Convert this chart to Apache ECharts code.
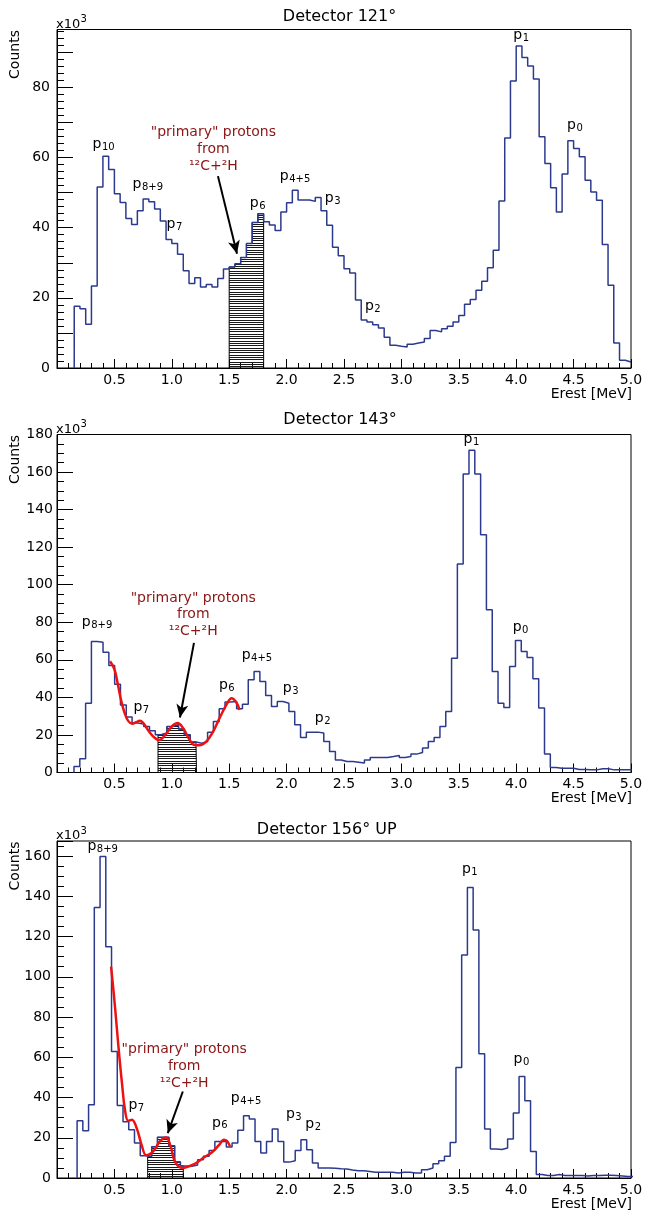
<!DOCTYPE html>
<html>
<head>
<meta charset="utf-8">
<script src="https://cdn.jsdelivr.net/npm/echarts@6/dist/echarts.min.js"></script>
<style>
html, body { margin: 0; padding: 0; background: #fff; }
#main { width: 645px; height: 1216px; }
</style>
</head>
<body>
<div id="main"></div>
<script>
// binning of each histogram (MeV): first edge and bin width
var binStart = [0.15, 0.148, 0.175];
var binWidth = [0.05, 0.0506, 0.05];

// counts per bin, x10^3
var counts121 = [
  17.6, 16.9, 12.5, 23.4, 51.6, 60.4, 56.6, 49.7, 47.2, 42.6,
  40.9, 44.8, 48.2, 47.4, 45.3, 41.9, 36.6, 35.5, 32.4, 27.7,
  24.1, 25.7, 23.1, 23.8, 23.1, 25.5, 28.2, 28.8, 29.7, 31.5,
  35.5, 41.5, 44.0, 41.7, 40.8, 39.2, 44.5, 47.1, 50.7, 47.9,
  47.9, 47.5, 48.6, 44.8, 40.7, 34.4, 32.0, 28.3, 27.1, 19.4,
  13.7, 13.1, 12.3, 11.4, 8.8, 6.5, 6.2, 6.0, 6.8, 7.1,
  7.4, 8.4, 10.7, 10.3, 11.2, 11.9, 13.1, 15.0, 18.2, 19.5,
  22.2, 24.7, 28.6, 33.6, 47.6, 65.6, 81.8, 91.8, 88.5, 86.1,
  82.4, 65.9, 58.3, 51.4, 44.5, 55.3, 64.8, 62.6, 60.2, 53.5,
  50.2, 47.8, 35.2, 23.6, 7.1, 2.2, 1.7
];
var counts143 = [
  3.2, 7.3, 36.9, 69.8, 69.4, 64.0, 57.0, 47.0, 36.0, 29.5,
  26.3, 25.8, 24.5, 22.2, 20.1, 21.0, 24.5, 25.4, 23.1, 20.1,
  16.2, 15.6, 16.5, 21.5, 27.2, 33.9, 37.5, 37.8, 33.9, 36.4,
  49.4, 53.8, 48.5, 41.0, 35.2, 37.8, 36.9, 32.5, 25.4, 18.7,
  21.5, 21.5, 21.0, 16.5, 11.2, 6.7, 5.9, 5.9, 5.5, 5.0,
  6.7, 8.0, 8.0, 8.0, 8.5, 9.1, 8.0, 8.5, 9.8, 10.7,
  13.0, 16.5, 18.7, 24.5, 32.5, 60.9, 111.0, 159.0, 171.6, 159.0,
  126.6, 86.7, 53.8, 36.9, 34.6, 56.5, 70.3, 64.5, 61.3, 49.9,
  34.3, 9.8, 2.7, 2.3, 2.3, 2.3, 1.6, 1.6, 1.4, 1.4,
  2.0, 2.0, 1.4, 1.4, 1.4, 1.4
];
var counts156 = [
  28.5, 23.5, 36.4, 134.5, 159.8, 115.0, 62.9, 36.0, 28.0, 24.0,
  17.4, 11.0, 10.8, 15.5, 20.2, 20.2, 16.0, 8.0, 6.0, 5.8,
  6.5, 9.1, 10.8, 13.7, 18.2, 18.2, 15.4, 17.4, 23.7, 30.9,
  29.3, 18.2, 12.4, 18.2, 24.3, 18.2, 7.9, 8.6, 13.7, 19.0,
  14.1, 7.4, 5.0, 5.0, 4.8, 4.6, 4.5, 4.0, 3.6, 3.6,
  3.2, 2.8, 2.8, 2.8, 2.8, 2.5, 2.8, 2.8, 2.5, 2.5,
  4.1, 5.0, 7.1, 8.6, 10.8, 17.7, 54.9, 110.9, 144.4, 123.3,
  61.7, 24.3, 14.4, 14.2, 14.9, 19.4, 32.3, 50.5, 38.4, 13.2,
  1.7, 1.3, 1.3, 1.7, 1.3, 1.3, 1.2, 1.2, 1.0, 1.2,
  1.2, 1.4, 1.4, 1.2, 1.0, 0.8, 0.8
];

// "primary" proton window (hatched), MeV
var hatchRange = [[1.5, 1.8], [0.88, 1.215], [0.79, 1.10]];

// fitted curves [MeV, counts x10^3]
var fit143 = [
  [0.462, 59.2], [0.50, 55.0], [0.53, 47.0], [0.56, 38.0], [0.59, 31.5], [0.62, 27.5],
  [0.655, 26.0], [0.69, 26.8], [0.72, 27.6], [0.75, 26.5], [0.80, 22.0], [0.85, 18.5],
  [0.89, 17.3], [0.95, 20.5], [1.00, 24.5], [1.05, 26.3], [1.10, 23.5], [1.15, 18.0],
  [1.20, 14.6], [1.24, 14.5], [1.30, 16.5], [1.36, 21.8], [1.42, 29.5], [1.48, 36.5],
  [1.52, 39.6], [1.56, 37.5], [1.59, 33.4]
];
var fit156 = [
  [0.471, 105.0], [0.497, 90.2], [0.520, 75.3], [0.543, 60.4], [0.566, 47.2], [0.592, 33.9],
  [0.621, 28.4], [0.652, 29.0], [0.694, 24.8], [0.737, 16.5], [0.778, 11.3], [0.838, 13.2],
  [0.896, 18.2], [0.950, 20.1], [0.990, 15.7], [1.026, 8.3], [1.090, 5.0], [1.185, 6.6],
  [1.272, 9.9], [1.358, 13.2], [1.420, 17.0], [1.452, 19.0], [1.480, 18.4], [1.508, 15.6]
];

var titles = ['Detector 121\u00b0', 'Detector 143\u00b0', 'Detector 156\u00b0 UP'];
var yMax = [96.5, 180, 167.5];
var yTickStep = [10, 20, 20];
var yMinorSplit = [5, 4, 4];

// peak labels: subscript, MeV, counts x10^3 (left edge / baseline of "p")
var peaks121 = [['10', 0.318, 62.2], ['8+9', 0.667, 51.0], ['7', 0.963, 39.6], ['6', 1.688, 45.6],
  ['4+5', 1.949, 53.3], ['3', 2.342, 47.0], ['2', 2.691, 16.2], ['1', 3.983, 93.5], ['0', 4.452, 67.8]];
var peaks143 = [['8+9', 0.225, 77.1], ['7', 0.674, 31.9], ['6', 1.419, 43.5], ['4+5', 1.617, 59.6],
  ['3', 1.976, 41.9], ['2', 2.254, 26.4], ['1', 3.550, 174.9], ['0', 3.978, 74.4]];
var peaks156 = [['8+9', 0.274, 162.4], ['7', 0.631, 33.4], ['6', 1.358, 24.9], ['4+5', 1.523, 36.9],
  ['3', 2.003, 28.9], ['2', 2.171, 24.3], ['1', 3.536, 150.7], ['0', 3.986, 56.7]];

// annotation text centre and arrow (from, to)
var noteAt = [[1.362, 67.1], [1.187, 93.0], [1.108, 63.7]];
var arrows = [
  [[1.402, 54.7], [1.568, 32.6]],
  [[1.193, 69.0], [1.071, 29.3]],
  [[1.096, 43.0], [0.965, 22.3]]
];

var FONT = '"DejaVu Sans", sans-serif';
var BLUE = '#2c3a8e';
var gridTop = [29.5, 434.5, 841];
var gridH = [338.5, 338, 337];
var titleXY = [[339.5, 17], [340, 420.2], [326.7, 829.5]];
var yLabelMargin = [7, 4, 6];

var chart = echarts.init(document.getElementById('main'));

function histPoints(start, width, vals) {
  var pts = [[start, 0]];
  for (var i = 0; i < vals.length; i++) pts.push([start + i * width, vals[i]]);
  pts.push([start + vals.length * width, vals[vals.length - 1]]);
  return pts;
}

function hatchPoints(start, width, vals, a, b) {
  var pts = [[a, 0]];
  var i0 = Math.floor((a - start) / width);
  var i1 = Math.floor((b - start) / width - 1e-9);
  for (var i = i0; i <= i1; i++) pts.push([Math.max(a, start + i * width), vals[i]]);
  pts.push([b, vals[i1]]);
  pts.push([b, 0]);
  return pts;
}

var pat = document.createElement('canvas');
pat.width = 4; pat.height = 7;
var pctx = pat.getContext('2d');
pctx.fillStyle = '#1a1a1a';
pctx.fillRect(0, 0, 4, 1);
pctx.fillRect(0, 2, 4, 1);
pctx.fillRect(0, 5, 4, 1);

var allCounts = [counts121, counts143, counts156];
var fits = [null, fit143, fit156];

var grids = [], xAxes = [], yAxes = [], series = [];
for (var p = 0; p < 3; p++) {
  grids.push({
    left: 57, width: 574, top: gridTop[p], height: gridH[p],
    show: true, borderColor: '#000', borderWidth: 1, backgroundColor: '#fff',
    containLabel: false, outerBoundsMode: 'none'
  });
  xAxes.push({
    type: 'value', gridIndex: p, min: 0, max: 5, interval: 0.5,
    axisLine: { show: true, lineStyle: { color: '#000', width: 1 } },
    axisTick: { show: true, inside: true, length: 9, lineStyle: { color: '#000' } },
    minorTick: { show: true, splitNumber: 5, length: 5, lineStyle: { color: '#000' } },
    splitLine: { show: false },
    axisLabel: {
      margin: 5, color: '#000', fontSize: 14, fontFamily: FONT,
      formatter: function (v) { return v === 0 ? '' : v.toFixed(1); }
    }
  });
  yAxes.push({
    type: 'value', gridIndex: p, min: 0, max: yMax[p], interval: yTickStep[p],
    axisLine: { show: true, lineStyle: { color: '#000', width: 1 } },
    axisTick: { show: true, inside: true, length: 16, lineStyle: { color: '#000' } },
    minorTick: { show: true, splitNumber: yMinorSplit[p], length: 7, lineStyle: { color: '#000' } },
    splitLine: { show: false },
    axisLabel: {
      margin: yLabelMargin[p], color: '#000', fontSize: 14, fontFamily: FONT,
      formatter: function (v) { return (Math.abs(v % 20) < 1e-6) ? String(v) : ''; }
    }
  });

  series.push({
    type: 'line', xAxisIndex: p, yAxisIndex: p, step: 'end', z: 1,
    showSymbol: false, silent: true,
    data: hatchPoints(binStart[p], binWidth[p], allCounts[p], hatchRange[p][0], hatchRange[p][1]),
    lineStyle: { color: '#000', width: 1 },
    areaStyle: { color: { image: pat, repeat: 'repeat' }, opacity: 1 }
  });
  series.push({
    type: 'line', xAxisIndex: p, yAxisIndex: p, step: 'end', z: 2,
    showSymbol: false, silent: true,
    data: histPoints(binStart[p], binWidth[p], allCounts[p]),
    lineStyle: { color: BLUE, width: 1.5 },
    markLine: {
      silent: true, symbol: ['none', 'arrow'], symbolSize: [9, 13],
      label: { show: false },
      lineStyle: { color: '#000', width: 2, type: 'solid' },
      data: [[{ coord: arrows[p][0] }, { coord: arrows[p][1] }]]
    }
  });
  if (fits[p]) {
    series.push({
      type: 'line', xAxisIndex: p, yAxisIndex: p, z: 3, smooth: 0.4,
      showSymbol: false, silent: true, data: fits[p],
      lineStyle: { color: '#ee1111', width: 2.5 }
    });
  }
}

chart.setOption({
  backgroundColor: '#fff',
  animation: false,
  grid: grids,
  xAxis: xAxes,
  yAxis: yAxes,
  series: series
});

// texts
var g = [];
function text(x, y, s, size, align, color, rot) {
  g.push({
    type: 'text', x: x, y: y, rotation: rot || 0, silent: true, z: 100,
    style: { text: s, font: size + 'px ' + FONT, fill: color || '#000',
      textAlign: align || 'left', textVerticalAlign: 'middle' }
  });
}
var peakSets = [peaks121, peaks143, peaks156];
for (var q = 0; q < 3; q++) {
  var gTop = gridTop[q], gBottom = gridTop[q] + gridH[q];
  text(titleXY[q][0], titleXY[q][1], titles[q], 16, 'center');
  text(15.5, gTop + 25, 'Counts', 14, 'center', '#000', Math.PI / 2);
  text(56, gTop - 5, 'x10', 13, 'left');
  text(80.5, gTop - 10, '3', 10, 'left');
  text(632, gBottom + 26, 'Erest [MeV]', 14, 'right');

  peakSets[q].forEach(function (pk) {
    var pt = chart.convertToPixel({ gridIndex: q }, [pk[1], pk[2]]);
    text(pt[0] - 1, pt[1] - 5, 'p', 14, 'left');
    text(pt[0] + 8.4, pt[1] - 2, pk[0], 10, 'left');
  });

  var c = chart.convertToPixel({ gridIndex: q }, noteAt[q]);
  var red = '#8c1515';
  text(c[0], c[1], '"primary" protons', 14, 'center', red);
  text(c[0], c[1] + 16.7, 'from', 14, 'center', red);
  text(c[0], c[1] + 33.4, '\u00b9\u00b2C+\u00b2H', 14, 'center', red);
}
chart.setOption({ graphic: g });
</script>
</body>
</html>
